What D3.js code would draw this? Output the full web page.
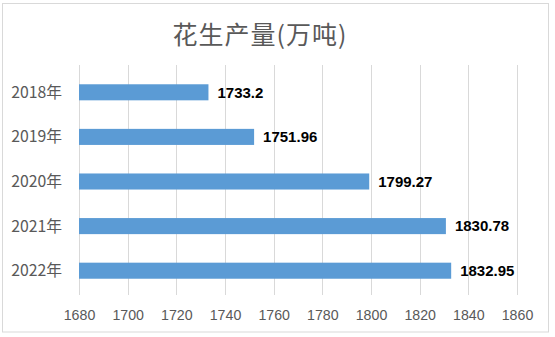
<!DOCTYPE html>
<html>
<head>
<meta charset="utf-8">
<script src="https://cdn.jsdelivr.net/npm/d3@7/dist/d3.min.js"></script>
<style>
  html, body { margin: 0; padding: 0; background: #fff; }
  svg { display: block; }
</style>
</head>
<body>
<svg id="chart" width="555" height="337"></svg>
<script>
// Peanut output by year (10k tonnes)
const years = ["2018年", "2019年", "2020年", "2021年", "2022年"];
const output = [1733.2, 1751.96, 1799.27, 1830.78, 1832.95];
const xTicks = [1680, 1700, 1720, 1740, 1760, 1780, 1800, 1820, 1840, 1860];
const title = "花生产量(万吨)";

const svg = d3.select("#chart");
const plot = { left: 79, right: 517, top: 70, bottom: 293 };
const gridTop = 65, gridBottom = 295;
const fontLatin = "'Liberation Sans', 'Noto Sans', sans-serif";
const fontCJK = "'Noto Sans CJK SC', 'Noto Sans', sans-serif";

// chart frame
svg.append("rect")
  .attr("x", 2.5).attr("y", 3.5)
  .attr("width", 546).attr("height", 328.5)
  .attr("fill", "#fff")
  .attr("stroke", "#d9d9d9").attr("stroke-width", 1);

const x = d3.scaleLinear()
  .domain([xTicks[0], xTicks[xTicks.length - 1]])
  .range([plot.left, plot.right]);

const y = d3.scaleBand()
  .domain(years)
  .range([plot.top, plot.bottom])
  .paddingInner(0.64)
  .paddingOuter(0.32);

// vertical gridlines
svg.append("g")
  .selectAll("line")
  .data(xTicks)
  .join("line")
  .attr("x1", d => Math.round(x(d)) + 0.5)
  .attr("x2", d => Math.round(x(d)) + 0.5)
  .attr("y1", gridTop).attr("y2", gridBottom)
  .attr("stroke", "#d9d9d9").attr("stroke-width", 1);

// x axis labels
const xAxis = d3.axisBottom(x).tickValues(xTicks).tickSize(0).tickPadding(0)
  .tickFormat(d3.format("d"));
const gx = svg.append("g")
  .attr("transform", `translate(0, 310)`)
  .call(xAxis);
gx.select(".domain").remove();
gx.selectAll("text")
  .attr("fill", "#595959")
  .attr("font-family", fontLatin)
  .attr("font-size", 14.2)
  .attr("dy", "0.35em")
  .attr("y", 5);

// y axis labels
const yAxis = d3.axisLeft(y).tickSize(0).tickPadding(0);
const gy = svg.append("g")
  .attr("transform", `translate(62, 0)`)
  .call(yAxis);
gy.select(".domain").remove();
gy.selectAll("text")
  .attr("fill", "#595959")
  .attr("font-family", fontCJK)
  .attr("font-size", 15.8)
  .attr("dy", "0.35em");

// bars
svg.append("g")
  .selectAll("rect")
  .data(years)
  .join("rect")
  .attr("x", x(xTicks[0]))
  .attr("y", d => y(d))
  .attr("width", (d, i) => x(output[i]) - x(xTicks[0]))
  .attr("height", y.bandwidth())
  .attr("fill", "#5b9bd5");

// value labels
svg.append("g")
  .selectAll("text")
  .data(years)
  .join("text")
  .attr("x", (d, i) => x(output[i]) + 9)
  .attr("y", d => y(d) + y.bandwidth() / 2)
  .attr("dy", "0.35em")
  .attr("font-family", fontLatin)
  .attr("font-weight", "bold")
  .attr("font-size", 15)
  .attr("fill", "#000")
  .text((d, i) => output[i]);

// title
svg.append("text")
  .attr("x", 260).attr("y", 35)
  .attr("text-anchor", "middle")
  .attr("dy", "0.35em")
  .attr("font-family", fontCJK)
  .attr("font-size", 25)
  .attr("letter-spacing", "1px")
  .attr("fill", "#595959")
  .text(title);
</script>
</body>
</html>
